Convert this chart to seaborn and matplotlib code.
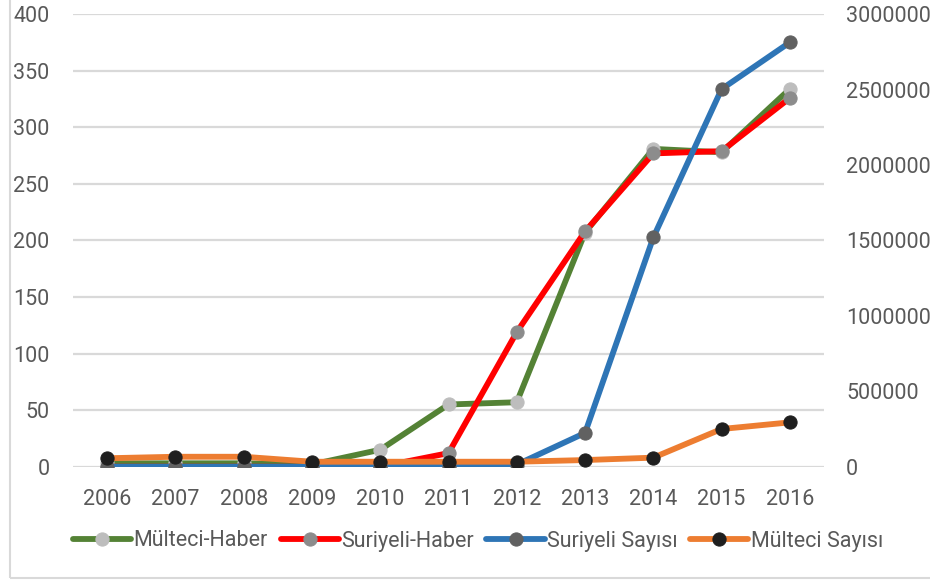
import matplotlib
matplotlib.use("Agg")
import matplotlib.pyplot as plt
from matplotlib.patches import Rectangle
import seaborn as sns

# data
years = [2006, 2007, 2008, 2009, 2010, 2011, 2012, 2013, 2014, 2015, 2016]
multeci_haber = [3, 3, 3, 2, 15, 55, 57, 207, 281, 278, 334]
suriyeli_haber = [0, 0, 0, 0, 0, 12, 119, 208, 277, 279, 326]
suriyeli_sayisi = [0, 0, 0, 0, 0, 0, 14000, 224000, 1520000, 2504000, 2814000]
multeci_sayisi = [56000, 66000, 66000, 33000, 33000, 33000, 33000, 44000, 60000, 250000, 294000]

left_ticks = list(range(0, 401, 50))
right_ticks = list(range(0, 3000001, 500000))

sns.set_style("white")
plt.rcParams["font.family"] = ["Roboto", "DejaVu Sans"]

text_col = "#595959"
grid_col = "#D9D9D9"
fs = 15.5

fig = plt.figure(figsize=(9.3, 5.82), dpi=100)
ax = fig.add_axes([73 / 930, 1 - 466.7 / 582, 751 / 930, 452.4 / 582])
ax2 = ax.twinx()

lw = 4.2
ms = 9.5

sns.lineplot(x=years, y=multeci_haber, ax=ax, color="#548235", linewidth=lw,
             marker="o", markersize=ms, markerfacecolor="#BDBDBD",
             markeredgecolor="#BDBDBD", label="Mülteci-Haber", legend=False)
sns.lineplot(x=years, y=suriyeli_haber, ax=ax, color="#FF0000", linewidth=lw,
             marker="o", markersize=ms, markerfacecolor="#8C8C8C",
             markeredgecolor="#8C8C8C", label="Suriyeli-Haber", legend=False)
sns.lineplot(x=years, y=suriyeli_sayisi, ax=ax2, color="#2E75B6", linewidth=lw,
             marker="o", markersize=ms, markerfacecolor="#616161",
             markeredgecolor="#616161", label="Suriyeli Sayısı", legend=False)
sns.lineplot(x=years, y=multeci_sayisi, ax=ax2, color="#ED7D31", linewidth=lw,
             marker="o", markersize=ms, markerfacecolor="#1F1F1F",
             markeredgecolor="#1F1F1F", label="Mülteci Sayısı", legend=False)

ax.set_xlim(years[0] - 0.5, years[-1] + 0.5)
ax.set_ylim(0, 400)
ax2.set_ylim(0, 3000000)
ax.set_yticks(left_ticks)
ax.set_yticklabels([str(t) for t in left_ticks])
ax2.set_yticks(right_ticks)
ax2.set_yticklabels([str(t) for t in right_ticks])
ax.set_xticks(years)
ax.set_xticklabels([str(y) for y in years])

for a in (ax, ax2):
    for s in a.spines.values():
        s.set_visible(False)
    a.set_xlabel("")
    a.set_ylabel("")

ax.yaxis.grid(True, color=grid_col, lw=1.6)
ax.set_axisbelow(True)
ax.tick_params(axis="y", length=0, pad=17, labelsize=fs, labelcolor=text_col)
ax.tick_params(axis="x", length=0, pad=16, labelsize=fs, labelcolor=text_col)
ax2.tick_params(axis="y", length=0, pad=16, labelsize=fs, labelcolor=text_col)

h1, l1 = ax.get_legend_handles_labels()
h2, l2 = ax2.get_legend_handles_labels()
fig.legend(h1 + h2, l1 + l2, loc="center", bbox_to_anchor=(478 / 930, 1 - 541 / 582),
           ncol=4, frameon=False, fontsize=fs, labelcolor=text_col,
           handlelength=2.7, handletextpad=0.1, columnspacing=0.6)

# light border around the chart area
fig.patches.append(Rectangle((10 / 930, 4 / 582), 0.995, 0.995, transform=fig.transFigure,
                             fill=False, edgecolor="#D9D9D9", lw=1.5))

fig.savefig("out.png", dpi=100)
